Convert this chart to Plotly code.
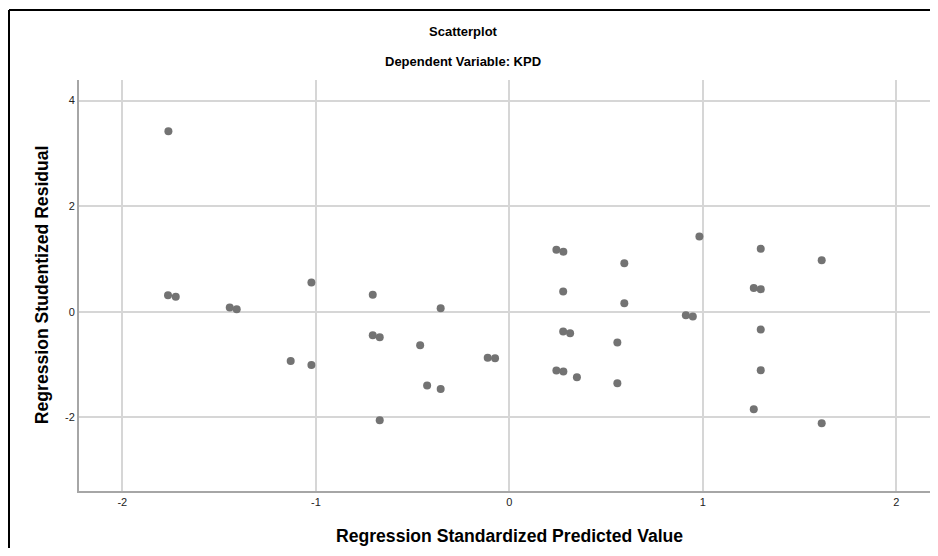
import plotly.graph_objects as go

# Regression Standardized Predicted Value (x) and Studentized Residual (y)
pred = [-1.762, -1.764, -1.724, -1.445, -1.409, -1.023, -1.130, -1.023,
        -0.706, -0.355, -0.706, -0.670, -0.461, -0.112, -0.074, -0.425,
        -0.355, -0.670,
        0.243, 0.279, 0.594, 0.278, 0.594, 0.278, 0.314, 0.558, 0.243,
        0.279, 0.349, 0.558, 0.982, 0.912, 0.948, 1.299, 1.263, 1.299,
        1.299, 1.299, 1.263, 1.614, 1.614]
resid = [3.416, 0.313, 0.281, 0.079, 0.047, 0.553, -0.932, -1.008,
         0.319, 0.066, -0.446, -0.483, -0.635, -0.875, -0.880, -1.400,
         -1.463, -2.057,
         1.172, 1.134, 0.919, 0.382, 0.161, -0.376, -0.408, -0.585, -1.115,
         -1.134, -1.242, -1.355, 1.425, -0.066, -0.091, 1.191, 0.451, 0.427,
         -0.338, -1.109, -1.848, 0.976, -2.114]

x_ticks = [-2, -1, 0, 1, 2]
x_labels = ["-2", "-1", "0", "1", "2"]
y_ticks = [-2, 0, 2, 4]
y_labels = ["-2", "0", "2", "4"]

OFF = 8  # page body margin
W, H = 938 - OFF, 556 - 2 * OFF
L, R, T = 79 - OFF, 0, 80 - OFF
B = H - (490.7 - OFF)

fig = go.Figure()
fig.add_trace(go.Scatter(
    x=pred, y=resid, mode="markers",
    marker=dict(size=8, color="#737373", line=dict(width=0)),
    hoverinfo="x+y", showlegend=False,
))

font = "Liberation Sans, Arial, sans-serif"
pw = W - L - R
ph = H - T - B


def px2paper_x(px):
    return (px - OFF - L) / pw


def py2paper_y(py):
    return (H - B - (py - OFF)) / ph


fig.update_layout(
    width=W, height=H,
    margin=dict(l=L, r=R, t=T, b=B, pad=0),
    paper_bgcolor="white", plot_bgcolor="white",
    font=dict(family=font, color="#333333", size=11),
    xaxis=dict(range=[-2.224, 2.215], tickvals=x_ticks, ticktext=x_labels,
               showgrid=True, gridcolor="#d6d6d6", gridwidth=1.5,
               zeroline=False, showline=True, linecolor="#a6a6a6",
               linewidth=2, ticks="", tickfont=dict(size=11, color="#222222"),
               fixedrange=True),
    yaxis=dict(range=[-3.397, 4.389], tickvals=y_ticks, ticktext=y_labels,
               showgrid=True, gridcolor="#d6d6d6", gridwidth=1.5,
               zeroline=False, showline=True, linecolor="#a6a6a6",
               linewidth=2, ticks="", tickfont=dict(size=11, color="#222222"),
               fixedrange=True),
    annotations=[
        dict(text="<b>Scatterplot</b>", xref="paper", yref="paper",
             x=px2paper_x(463), y=py2paper_y(32), showarrow=False,
             xanchor="center", yanchor="middle",
             font=dict(size=13, color="black", family=font)),
        dict(text="<b>Dependent Variable: KPD</b>", xref="paper", yref="paper",
             x=px2paper_x(463), y=py2paper_y(62), showarrow=False,
             xanchor="center", yanchor="middle",
             font=dict(size=13, color="black", family=font)),
        dict(text="<b>Regression Standardized Predicted Value</b>", xref="paper",
             yref="paper", x=px2paper_x(509), y=py2paper_y(536), showarrow=False,
             xanchor="center", yanchor="middle",
             font=dict(size=17.6, color="black", family=font)),
        dict(text="<b>Regression Studentized Residual</b>", xref="paper",
             yref="paper", x=px2paper_x(42), y=py2paper_y(285), showarrow=False,
             textangle=-90, xanchor="center", yanchor="middle",
             font=dict(size=17.6, color="black", family=font)),
    ],
    shapes=[
        dict(type="line", xref="paper", yref="paper",
             x0=px2paper_x(9), x1=px2paper_x(990),
             y0=py2paper_y(10), y1=py2paper_y(10),
             line=dict(color="black", width=2), layer="above"),
        dict(type="line", xref="paper", yref="paper",
             x0=px2paper_x(9), x1=px2paper_x(9),
             y0=py2paper_y(10), y1=py2paper_y(600),
             line=dict(color="black", width=2), layer="above"),
    ],
)

fig.write_html("out.html")
